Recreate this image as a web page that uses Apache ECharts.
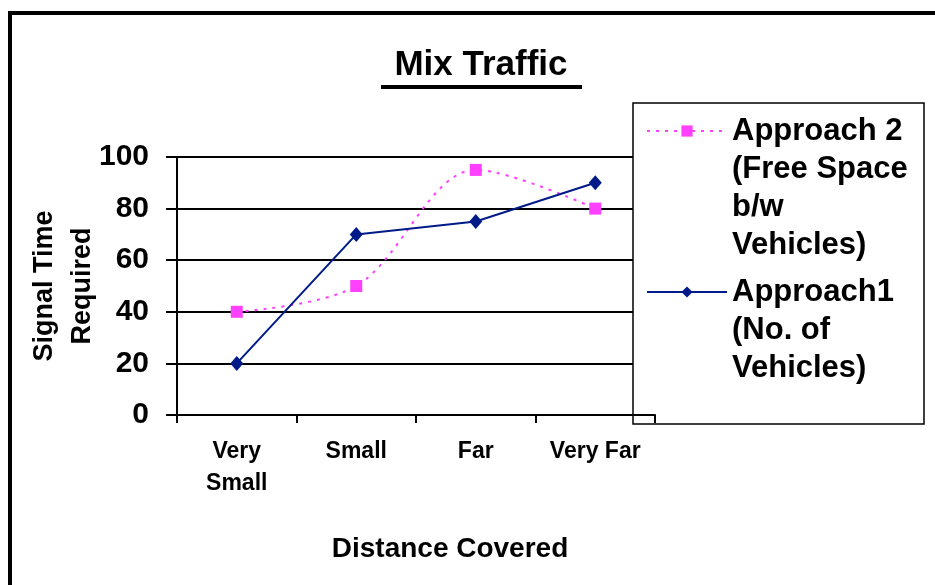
<!DOCTYPE html>
<html>
<head>
<meta charset="utf-8">
<script src="https://cdn.jsdelivr.net/npm/echarts@6/dist/echarts.min.js"></script>
<style>
  html, body { margin: 0; padding: 0; background: #ffffff; }
  #chart { width: 935px; height: 585px; }
</style>
</head>
<body>
<div id="chart"></div>
<script>
// Distance categories along the x axis
const categories = ['Very\nSmall', 'Small', 'Far', 'Very Far'];
// Signal time required for each approach
const approach2Values = [40, 50, 95, 80];
const approach1Values = [20, 70, 75, 90];
// Y axis range and step
const yMin = 0, yMax = 100, yStep = 20;

const seriesNames = ['Approach 2 (Free Space b/w Vehicles)', 'Approach1 (No. of Vehicles)'];
// Legend text per series; leading blank lines keep the marker beside the first line
const legendText = {};
legendText[seriesNames[0]] = '\n\n\nApproach 2\n(Free Space\nb/w\nVehicles)';
legendText[seriesNames[1]] = '\n\nApproach1\n(No. of\nVehicles)';

const FONT = '"Liberation Sans", Arial, sans-serif';
const PINK = '#ff40ff';
const NAVY = '#001a8a';
const LH = 38;

const chart = echarts.init(document.getElementById('chart'), null, { renderer: 'canvas' });

const legendCommon = {
  orient: 'vertical',
  left: 646,
  padding: 0,
  itemWidth: 80,
  itemHeight: 14,
  selectedMode: false,
  formatter: name => legendText[name],
  textStyle: { fontFamily: FONT, fontSize: 31, fontWeight: 'bold', color: '#000', lineHeight: LH }
};

chart.setOption({
  backgroundColor: '#ffffff',
  animation: false,
  title: {
    text: 'Mix Traffic',
    left: 481,
    top: 48,
    textAlign: 'center',
    padding: 0,
    textStyle: { fontFamily: FONT, fontSize: 35, fontWeight: 'bold', color: '#000' }
  },
  legend: [
    Object.assign({}, legendCommon, { data: [seriesNames[0]], top: 131 - 3.5 * LH }),
    Object.assign({}, legendCommon, { data: [seriesNames[1]], top: 292 - 2.5 * LH })
  ],
  grid: { left: 177, right: 280, top: 157, bottom: 170, containLabel: false },
  xAxis: {
    type: 'category',
    data: categories,
    boundaryGap: true,
    z: 6,
    name: 'Distance Covered',
    nameLocation: 'middle',
    nameGap: 120,
    nameMoveOverlap: false,
    nameTextStyle: {
      fontFamily: FONT, fontSize: 28, fontWeight: 'bold', color: '#000',
      padding: [0, 0, 0, 68]
    },
    axisLine: { lineStyle: { color: '#000', width: 2 } },
    axisTick: { show: true, length: 8, interval: 0, lineStyle: { color: '#000', width: 2 } },
    axisLabel: {
      interval: 0,
      margin: 21,
      fontFamily: FONT, fontSize: 23, fontWeight: 'bold', color: '#000', lineHeight: 32
    },
    splitLine: { show: false }
  },
  yAxis: {
    type: 'value',
    min: yMin, max: yMax, interval: yStep,
    name: 'Signal Time\nRequired',
    nameLocation: 'middle',
    nameRotate: 90,
    nameGap: 75,
    nameMoveOverlap: false,
    nameTextStyle: { fontFamily: FONT, fontSize: 27, fontWeight: 'bold', color: '#000', lineHeight: 38 },
    axisLine: { show: true, lineStyle: { color: '#000', width: 2 } },
    axisTick: { show: true, length: 11, lineStyle: { color: '#000', width: 2 } },
    axisLabel: { margin: 28, fontFamily: FONT, fontSize: 30, fontWeight: 'bold', color: '#000' },
    splitLine: { show: true, lineStyle: { color: '#000', width: 2 } }
  },
  graphic: [
    // chart frame
    { type: 'polyline', z: 1, shape: { points: [[10, 600], [10, 13], [950, 13]] },
      style: { stroke: '#000', lineWidth: 4, fill: null } },
    // title underline
    { type: 'line', z: 1, shape: { x1: 381, y1: 87, x2: 582, y2: 87 },
      style: { stroke: '#000', lineWidth: 4 } },
    // legend box
    { type: 'rect', z: 3, shape: { x: 633, y: 103, width: 291, height: 321 },
      style: { fill: '#ffffff', stroke: '#000', lineWidth: 1.5 } }
  ],
  series: [
    {
      name: seriesNames[0],
      type: 'line',
      data: approach2Values,
      smooth: 0.33,
      symbol: 'rect',
      symbolSize: 12,
      itemStyle: { color: PINK },
      lineStyle: { color: PINK, width: 2, type: [3, 6] },
      z: 2
    },
    {
      name: seriesNames[1],
      type: 'line',
      data: approach1Values,
      symbol: 'diamond',
      symbolSize: [13, 15],
      itemStyle: { color: NAVY },
      lineStyle: { color: NAVY, width: 2 },
      z: 2
    }
  ]
});
</script>
</body>
</html>
